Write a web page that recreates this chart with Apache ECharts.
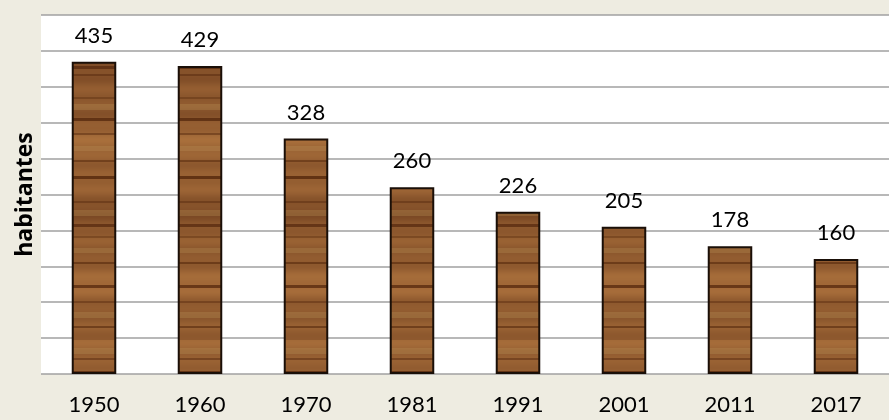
<!DOCTYPE html>
<html>
<head>
    <meta charset="UTF-8">
    <title>habitantes</title>
    <script src="https://cdn.jsdelivr.net/npm/echarts@6/dist/echarts.min.js"></script>
    <style>
        html, body { margin: 0; padding: 0; background: #EEECE1; }
    </style>
</head>
<body>
<div id="chart" style="width:889px;height:420px;"></div>
<script>
    var years = ['1950', '1960', '1970', '1981', '1991', '2001', '2011', '2017'];
    var habitantes = [435, 429, 328, 260, 226, 205, 178, 160];

    // textura de madera (bandas horizontales irregulares)
    function madera() {
        var c = document.createElement('canvas');
        c.width = 60; c.height = 340;
        var ctx = c.getContext('2d');
        for (var y = 0; y < c.height; y++) {
            var t = Math.sin(y * 0.047 + 0.8) * 0.45 + Math.sin(y * 0.131 + 2.1) * 0.35 + Math.sin(y * 0.37 + 0.4) * 0.2;
            var r = Math.round(146 + t * 24), g = Math.round(92 + t * 20), b = Math.round(48 + t * 12);
            ctx.fillStyle = 'rgb(' + r + ',' + g + ',' + b + ')';
            ctx.fillRect(0, y, c.width, 1);
        }
        // vetas oscuras
        var vetas = [[18, 2, 0.45], [31, 3, 0.7], [47, 2, 0.4], [66, 3, 0.65], [74, 2, 0.45], [97, 2, 0.35],
                     [118, 3, 0.7], [133, 2, 0.45], [160, 2, 0.5], [176, 3, 0.75], [201, 2, 0.4],
                     [224, 3, 0.65], [236, 2, 0.35], [262, 2, 0.55], [285, 3, 0.7], [301, 2, 0.4], [326, 2, 0.55]];
        vetas.forEach(function (v) {
            ctx.fillStyle = 'rgba(80,36,10,' + v[2] + ')';
            ctx.fillRect(0, v[0], c.width, v[1]);
        });
        // zonas claras
        [[8, 6], [52, 5], [104, 6], [146, 5], [210, 6], [248, 5], [312, 6]].forEach(function (v) {
            ctx.fillStyle = 'rgba(190,150,90,0.3)';
            ctx.fillRect(0, v[0], c.width, v[1]);
        });
        return c;
    }

    var myChart = echarts.init(document.getElementById('chart'));
    var option = {
        backgroundColor: '#EEECE1',
        textStyle: { fontFamily: 'Lato' },
        grid: {
            left: 41, right: -13, top: 15, bottom: 46,
            show: true, backgroundColor: '#fff', borderWidth: 0
        },
        xAxis: {
            type: 'category',
            data: years,
            axisLine: { show: false },
            axisTick: { show: false },
            axisLabel: { color: '#000', fontSize: 22, margin: 20, fontFamily: 'Lato' }
        },
        yAxis: {
            type: 'value',
            min: 0, max: 500, interval: 50,
            name: 'habitantes',
            nameLocation: 'middle',
            nameGap: 4,
            nameTextStyle: { color: '#000', fontSize: 23, fontWeight: 'bold', fontFamily: 'Open Sans' },
            axisLine: { show: false },
            axisTick: { show: false },
            axisLabel: { show: false },
            splitLine: { lineStyle: { color: '#a0a0a0', width: 1.5 } }
        },
        series: [{
            type: 'bar',
            data: habitantes,
            barWidth: '42%',
            itemStyle: {
                color: { image: madera(), repeat: 'repeat' },
                borderColor: '#1a0f08',
                borderWidth: 2
            },
            label: {
                show: true,
                position: 'top',
                distance: 15,
                color: '#000',
                fontSize: 22,
                fontFamily: 'Lato'
            }
        }]
    };

    myChart.setOption(option);
</script>
</body>
</html>
